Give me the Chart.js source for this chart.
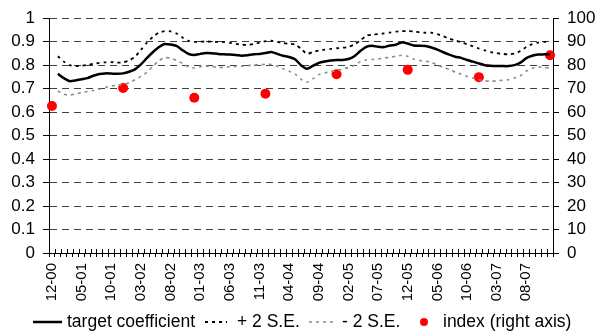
<!DOCTYPE html>
<html>
<head>
<meta charset="utf-8">
<script src="https://cdn.jsdelivr.net/npm/chart.js@4/dist/chart.umd.min.js"></script>
<style>
  html, body { margin: 0; padding: 0; background: #fff; }
</style>
</head>
<body>
<canvas id="chart" width="598" height="336"></canvas>
<script>
// monthly categories 12-00 ... 12-07
const months = []
for (let i = 0; i < 85; i++) {
  const m = (11 + i) % 12 + 1
  const y = Math.floor((11 + i) / 12)
  months.push(String(m).padStart(2, '0') + '-' + String(y).padStart(2, '0'))
}

// target coefficient and its +/- 2 S.E. band (series starts at 01-01)
const targetCoef = [null,
  0.763, 0.745, 0.732, 0.735, 0.740, 0.745, 0.755, 0.762, 0.765, 0.764, 0.763, 0.765,
  0.772, 0.782, 0.803, 0.830, 0.855, 0.876, 0.890, 0.888, 0.882, 0.864, 0.848, 0.843,
  0.848, 0.852, 0.851, 0.848, 0.846, 0.845, 0.843, 0.840, 0.842, 0.846, 0.848, 0.852,
  0.856, 0.848, 0.840, 0.835, 0.825, 0.800, 0.785, 0.797, 0.810, 0.816, 0.820, 0.822,
  0.822, 0.826, 0.838, 0.860, 0.878, 0.883, 0.878, 0.877, 0.884, 0.887, 0.897, 0.892,
  0.884, 0.883, 0.882, 0.875, 0.866, 0.855, 0.845, 0.836, 0.831, 0.822, 0.815, 0.807,
  0.800, 0.797, 0.796, 0.796, 0.796, 0.800, 0.811, 0.830, 0.840, 0.845, 0.846, 0.847]

const plus2SE = [null,
  0.838, 0.815, 0.800, 0.796, 0.798, 0.801, 0.806, 0.810, 0.812, 0.813, 0.811, 0.812,
  0.820, 0.835, 0.865, 0.895, 0.920, 0.938, 0.945, 0.944, 0.935, 0.918, 0.904, 0.899,
  0.900, 0.901, 0.900, 0.899, 0.898, 0.895, 0.891, 0.887, 0.887, 0.890, 0.896, 0.902,
  0.904, 0.899, 0.894, 0.891, 0.888, 0.870, 0.848, 0.856, 0.862, 0.866, 0.869, 0.872,
  0.874, 0.878, 0.888, 0.905, 0.925, 0.930, 0.932, 0.935, 0.939, 0.943, 0.945, 0.945,
  0.944, 0.940, 0.938, 0.938, 0.932, 0.923, 0.913, 0.905, 0.898, 0.889, 0.880, 0.871,
  0.863, 0.856, 0.851, 0.848, 0.846, 0.849, 0.860, 0.878, 0.890, 0.896, 0.899, 0.900]

const minus2SE = [null,
  0.690, 0.676, 0.672, 0.678, 0.683, 0.688, 0.692, 0.698, 0.705, 0.711, 0.715, 0.718,
  0.725, 0.738, 0.752, 0.770, 0.795, 0.818, 0.832, 0.830, 0.820, 0.808, 0.793, 0.788,
  0.793, 0.796, 0.794, 0.791, 0.790, 0.793, 0.795, 0.796, 0.798, 0.800, 0.802, 0.803,
  0.803, 0.795, 0.785, 0.774, 0.762, 0.740, 0.727, 0.742, 0.760, 0.767, 0.772, 0.777,
  0.783, 0.790, 0.800, 0.815, 0.822, 0.824, 0.826, 0.830, 0.834, 0.838, 0.842, 0.838,
  0.826, 0.820, 0.817, 0.812, 0.800, 0.790, 0.782, 0.770, 0.762, 0.752, 0.745, 0.738,
  0.733, 0.732, 0.733, 0.736, 0.738, 0.745, 0.755, 0.775, 0.786, 0.792, 0.790, 0.788]

// yearly index, right axis
const indexMonths = ['12-00', '12-01', '12-02', '12-03', '12-04', '12-05', '12-06', '12-07']
const indexValues = [62.6, 70.3, 66.1, 67.8, 76.1, 78.0, 74.9, 84.2]

const FONT = "'Liberation Sans', Arial, sans-serif"

// legend drawn by hand so line samples keep their dash pattern
const legendPos = [
  { x: 33, w: 29, tx: 67 },
  { x: 205, w: 22, tx: 237 },
  { x: 309, w: 24, tx: 342 },
  { x: 424, w: 0, tx: 443 }
]
const legendLabels = ['target coefficient', '+ 2 S.E.', '- 2 S.E.', 'index (right axis)']

const refLegend = {
  id: 'refLegend',
  afterDraw(chart) {
    const ctx = chart.ctx
    const y = 322
    ctx.save()
    ctx.font = '17.5px ' + FONT
    ctx.textBaseline = 'middle'
    ctx.fillStyle = '#000'
    chart.data.datasets.forEach((ds, i) => {
      const p = legendPos[i]
      ctx.save()
      if (ds.showLine === false) {
        ctx.fillStyle = ds.backgroundColor
        ctx.beginPath()
        ctx.arc(p.x, y, 4, 0, Math.PI * 2)
        ctx.fill()
      } else {
        ctx.strokeStyle = ds.borderColor
        ctx.lineWidth = ds.borderWidth
        ctx.setLineDash(ds.borderDash || [])
        ctx.beginPath()
        ctx.moveTo(p.x, y)
        ctx.lineTo(p.x + p.w, y)
        ctx.stroke()
      }
      ctx.restore()
      ctx.fillText(legendLabels[i], p.tx, y)
    })
    ctx.restore()
  }
}

// small ticks on the x axis cross the axis line
const crossTicks = {
  id: 'crossTicks',
  afterDraw(chart) {
    const xs = chart.scales.x
    const ctx = chart.ctx
    const half = (xs.getPixelForTick(1) - xs.getPixelForTick(0)) / 2
    ctx.save()
    ctx.strokeStyle = '#000'
    ctx.lineWidth = 1
    ctx.beginPath()
    for (let i = 0; i <= months.length; i++) {
      const px = Math.round(xs.getPixelForTick(0) - half + i * half * 2) + 0.5
      ctx.moveTo(px, xs.top - 4)
      ctx.lineTo(px, xs.top)
    }
    ctx.stroke()
    ctx.restore()
  }
}

const chart = new Chart(document.getElementById('chart'), {
  type: 'line',
  data: {
    labels: months,
    datasets: [
      {
        label: 'target coefficient',
        data: targetCoef,
        borderColor: '#000',
        borderWidth: 2.5,
        pointRadius: 0,
        tension: 0.2,
        yAxisID: 'y'
      },
      {
        label: '+ 2 S.E.',
        data: plus2SE,
        borderColor: '#000',
        borderWidth: 1.8,
        borderDash: [3, 4],
        pointRadius: 0,
        tension: 0.2,
        yAxisID: 'y'
      },
      {
        label: '- 2 S.E.',
        data: minus2SE,
        borderColor: '#8c8c8c',
        borderWidth: 1.6,
        borderDash: [3, 4],
        pointRadius: 0,
        tension: 0.2,
        yAxisID: 'y'
      },
      {
        label: 'index (right axis)',
        data: indexMonths.map((m, i) => ({ x: m, y: indexValues[i] })),
        showLine: false,
        backgroundColor: '#ff0000',
        borderColor: '#ff0000',
        pointRadius: 5,
        pointBorderWidth: 0,
        yAxisID: 'y2'
      }
    ]
  },
  options: {
    responsive: false,
    animation: false,
    devicePixelRatio: 1,
    layout: { padding: { top: 17, bottom: 30, left: 0, right: 0 } },
    plugins: {
      legend: { display: false },
      tooltip: { enabled: false }
    },
    scales: {
      x: {
        type: 'category',
        offset: true,
        grid: { offset: true, drawOnChartArea: false, tickLength: 4, color: '#000' },
        border: { color: '#000', width: 1 },
        ticks: {
          autoSkip: false,
          minRotation: 90,
          maxRotation: 90,
          padding: 6,
          color: '#000',
          font: { family: FONT, size: 15 },
          callback: (v, i) => (i % 5 === 0 ? months[i] : '')
        },
        afterFit: s => { s.height = 53 }
      },
      y: {
        position: 'left',
        min: 0,
        max: 1,
        ticks: {
          stepSize: 0.1,
          padding: 8,
          color: '#000',
          font: { family: FONT, size: 17 },
          callback: v => String(Number(v.toFixed(1)))
        },
        grid: { color: '#404040', tickLength: 6, tickColor: '#000' },
        border: { color: '#000', dash: [7, 5] },
        afterFit: s => { s.width = 49 }
      },
      y2: {
        position: 'right',
        min: 0,
        max: 100,
        ticks: { stepSize: 10, padding: 8, color: '#000', font: { family: FONT, size: 17 } },
        grid: { drawOnChartArea: false, tickLength: 6, color: '#000' },
        border: { color: '#000' },
        afterFit: s => { s.width = 45 }
      }
    }
  },
  plugins: [refLegend, crossTicks]
})
</script>
</body>
</html>
